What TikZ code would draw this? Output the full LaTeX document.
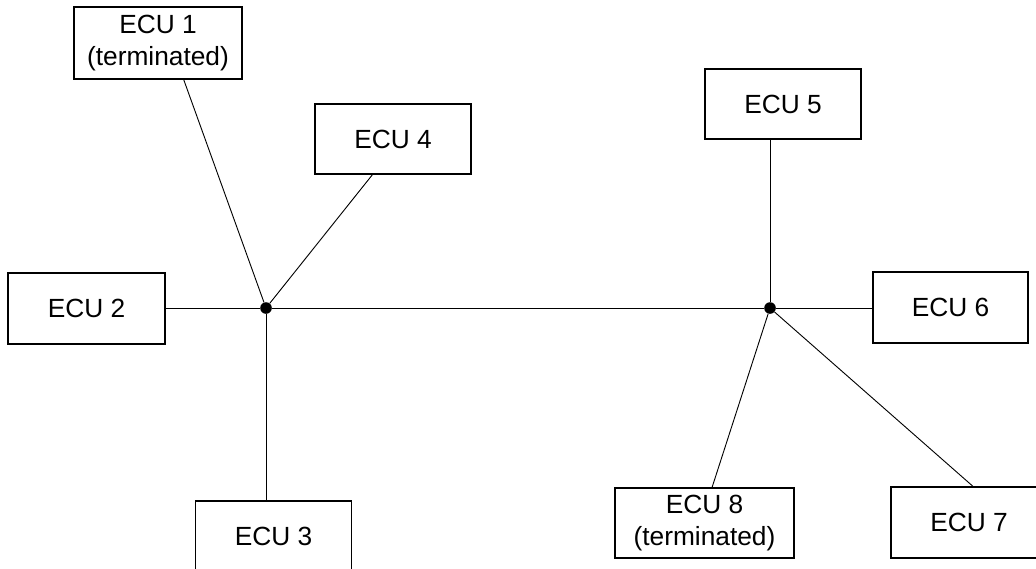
\documentclass[tikz,border=0pt]{standalone}
\usepackage{fontspec}
\setmainfont{Liberation Sans}
\begin{document}
\begin{tikzpicture}[x=0.025cm,y=-0.025cm,
	ecubox/.style={draw,line width=1.1pt,align=center,minimum width=3.9cm,minimum height=1.775cm,inner sep=0pt,font=\fontsize{18.7}{22.6}\selectfont},
	bus/.style={line width=0.65pt},
	junction/.style={circle,fill=black,inner sep=0pt,minimum size=0.29cm}]
			\useasboundingbox (0,0) rectangle (1036,568);
			\node [junction] (j1) at (266,308) {};
			\node [junction] (j2) at (770,308) {};
			\node [ecubox,minimum width=4.2cm,minimum height=1.8cm] (ecu1) at (158,43) {ECU 1\\(terminated)};
			\node [ecubox,minimum height=1.75cm] (ecu4) at (393,139) {ECU 4};
			\node [ecubox,minimum width=3.925cm] (ecu2) at (86.5,308.5) {ECU 2};
			\node [ecubox] (ecu3) at (273.5,536.5) {ECU 3};
			\node [ecubox,minimum height=1.75cm] (ecu5) at (783,104) {ECU 5};
			\node [ecubox,minimum width=3.875cm] (ecu6) at (950.5,307.5) {ECU 6};
			\node [ecubox,minimum width=4.475cm,minimum height=1.75cm] (ecu8) at (704.5,523) {ECU 8\\(terminated)};
			\node [ecubox] (ecu7) at (969,522.5) {ECU 7};
			\draw [bus] (j1) -- (j2);
			\draw [bus] (ecu1.-55) -- (j1);
			\draw [bus] (ecu4.-120) -- (j1);
			\draw [bus] (j1 -| ecu2.east) -- (j1);
			\draw [bus] (j1) -- (j1 |- ecu3.north);
			\draw [bus] (j2) -- (j2 |- ecu5.south);
			\draw [bus] (j2) -- (j2 -| ecu6.west);
			\draw [bus] (j2) -- (ecu8.78);
			\draw [bus] (j2) -- (ecu7.84);
		\end{tikzpicture}
\end{document}
